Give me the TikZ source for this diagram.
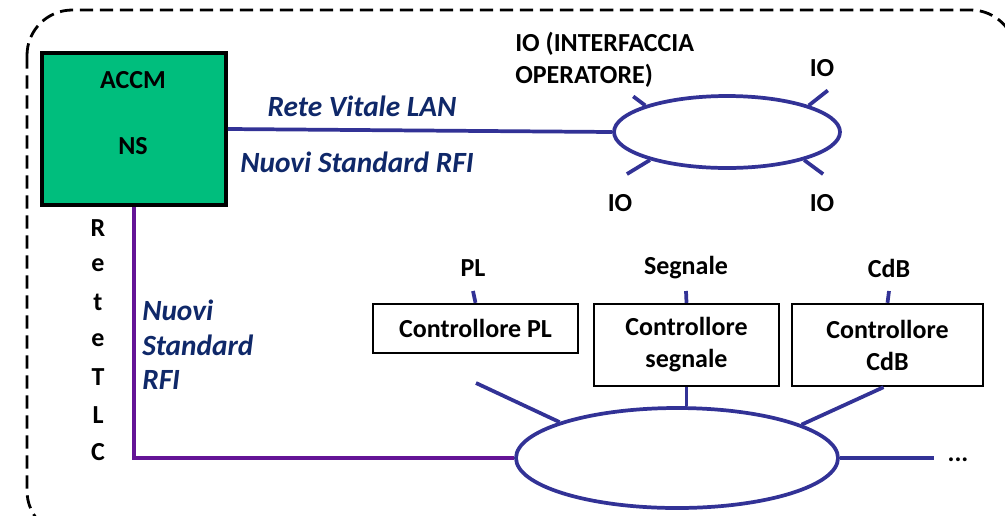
\documentclass[tikz,border=0pt]{standalone}
\usepackage{fontspec}
\setmainfont{Carlito}
\usetikzlibrary{shapes.geometric,calc}
\definecolor{boxgreen}{RGB}{0,190,125}
\definecolor{netblue}{RGB}{50,50,150}
\definecolor{netpurple}{RGB}{100,20,150}
\definecolor{lblblue}{RGB}{15,40,105}
\begin{document}
\begin{tikzpicture}[x=0.75pt,y=-0.75pt,
  lbl/.style={font=\fontsize{19.5}{24}\selectfont\bfseries, inner sep=0pt, align=left},
  ilbl/.style={font=\fontsize{22}{26}\selectfont\bfseries\itshape, text=lblblue, inner sep=0pt, align=left},
  ctrl/.style={draw=black, line width=1.8pt, fill=white, align=center, font=\fontsize{19.5}{24}\selectfont\bfseries, inner sep=0pt},
  bus/.style={ellipse, draw=netblue, line width=2.8pt, fill=white, inner sep=0pt},
  link/.style={netblue, line width=2.8pt},
  plink/.style={netpurple, line width=2.8pt},
  frame/.style={black, line width=2.1pt, dash pattern=on 10pt off 5pt, rounded corners=34pt}
]
\clip (0,0) rectangle (1005,515);
\fill[white] (0,0) rectangle (1005,515);
% dashed frame
\draw[frame] (27,10) rectangle (1016,536);

% ACCM box
\node[draw=black, line width=2.8pt, fill=boxgreen, minimum width=138pt, minimum height=114pt, inner sep=0pt] (ns) at (134,129) {};
\node[lbl] (accm) at (133,80) {ACCM};
\node[lbl] (nslbl) at (133,146) {NS};

% top bus (operator interface)
\node[bus, minimum width=169.5pt, minimum height=54pt] (top) at (727,132) {};
\draw[link] (ns.east) -- (top.west);
\draw[link] (top.162) -- ++(-12,-9) coordinate (t1);
\draw[link] (top.18) -- ++(19,-15) coordinate (t2);
\draw[link] (top.200) -- ++(-23,14) coordinate (t3);
\draw[link] (top.340) -- ++(19,14) coordinate (t4);
\node[lbl, anchor=west] (iolbl) at (515,60) {IO (INTERFACCIA\\OPERATORE)};
\node[lbl] (io2) at (822,68) {IO};
\node[lbl] (io3) at (620,203) {IO};
\node[lbl] (io4) at (822,203) {IO};
\node[ilbl] (rvl) at (362,106) {Rete Vitale LAN};
\node[ilbl] (nsr) at (357,162) {Nuovi Standard RFI};

% bottom bus
\node[bus, minimum width=241.5pt, minimum height=75pt] (bot) at (677,458) {};
\draw[plink] (ns.south) |- (bot.west);

% vertical letters
\foreach \ch/\yy [count=\i] in {R/228,e/265,t/302,e/340,T/377,L/415,C/452}
  \node[lbl] (v\i) at (98,\yy) {\ch};
\node[ilbl, anchor=west] (nsr2) at (142,345) {Nuovi\\Standard\\RFI};

% controllers
\node[ctrl, minimum width=153.75pt, minimum height=36.75pt] (cpl) at (475.5,328.5) {Controllore PL};
\node[ctrl, minimum width=138.75pt, minimum height=61.5pt] (cseg) at (686.5,345) {Controllore\\segnale};
\node[ctrl, minimum width=143.25pt, minimum height=61.5pt] (ccdb) at (887.5,345) {Controllore\\CdB};
\node[lbl] (pl) at (473,268) {PL};
\node[lbl] (seg) at (686,268) {Segnale};
\node[lbl] (cdb) at (889,268) {CdB};
\draw[link] (cpl.north) -- (pl.south |- 0,291);
\draw[link] (cseg.north) -- (seg.south |- 0,291);
\draw[link] (ccdb.north) -- (cdb.south |- 0,291);

\coordinate (sp1) at (476,383);
\draw[link] (bot.163) -- (sp1);
\draw[link] (cseg.south) -- (cseg.south |- bot.north);
\draw[link] ($(ccdb.south)+(-4,0)$) -- (bot.15);
\draw[link] (bot.east) -- ++(94,0) coordinate (sp2);
\node[lbl] (dots) at (958,460) {...};
\end{tikzpicture}
\end{document}
